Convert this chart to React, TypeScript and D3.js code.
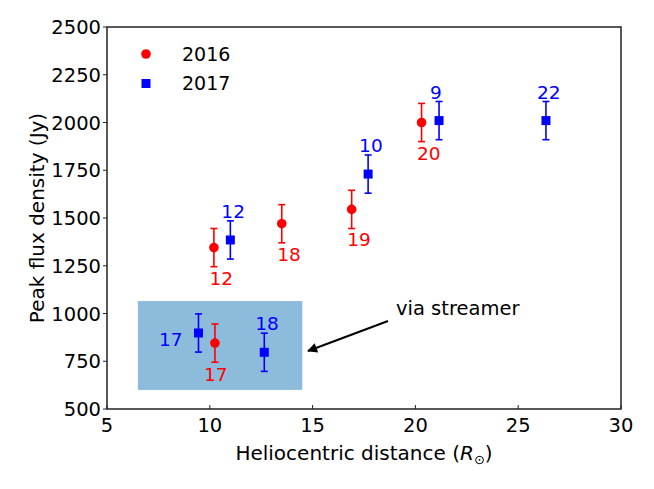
import React from "react"
import * as d3 from "d3"

// heliocentric distance (R_sun), peak flux (Jy), error (Jy), label
const dist2016 = [10.2, 13.5, 16.9, 20.3]
const flux2016 = [1345, 1470, 1545, 2000]
const err2016 = [100, 100, 100, 100]
const num2016 = ["12", "18", "19", "20"]

const dist2017 = [11.0, 17.7, 21.15, 26.35]
const flux2017 = [1385, 1730, 2010, 2010]
const err2017 = [100, 100, 100, 100]
const num2017 = ["12", "10", "9", "22"]

// points observed via streamer
const streamDist2016 = [10.25]
const streamFlux2016 = [845]
const streamErr2016 = [100]
const streamNum2016 = ["17"]

const streamDist2017 = [9.45, 12.65]
const streamFlux2017 = [898, 797]
const streamErr2017 = [100, 100]
const streamNum2017 = ["17", "18"]

const streamBoxX = [6.5, 14.5]
const streamBoxY = [600, 1065]

const xTicks = [5, 10, 15, 20, 25, 30]
const yTicks = [500, 750, 1000, 1250, 1500, 1750, 2000, 2250, 2500]

const W = 654
const H = 489
const margin = { left: 107, right: 33, top: 27, bottom: 80 }
const FONT = "DejaVu Sans, sans-serif"
const RED = "#ff0000"
const BLUE = "#0000ff"

type Side = "below" | "above" | "left" | "belowS"
const offsets: Record<Side, [number, number]> = {
  below: [-4.5, 37],
  above: [-9, -22],
  left: [-39.5, 13],
  belowS: [-11, 38],
}

const x = d3.scaleLinear().domain([5, 30]).range([margin.left, W - margin.right])
const y = d3.scaleLinear().domain([500, 2500]).range([H - margin.bottom, margin.top])

interface Pt { d: number; f: number; e: number; n: string; side: Side }

const zip = (ds: number[], fs: number[], es: number[], ns: string[], side: Side[]): Pt[] =>
  ds.map((d, i) => ({ d, f: fs[i], e: es[i], n: ns[i], side: side[i] }))

const pts2016 = zip(dist2016, flux2016, err2016, num2016, ["below", "below", "below", "below"])
  .concat(zip(streamDist2016, streamFlux2016, streamErr2016, streamNum2016, ["belowS"]))
const pts2017 = zip(dist2017, flux2017, err2017, num2017, ["above", "above", "above", "above"])
  .concat(zip(streamDist2017, streamFlux2017, streamErr2017, streamNum2017, ["left", "above"]))

const ErrBar = ({ p, color }: { p: Pt; color: string }) => {
  const cx = x(p.d)
  const y0 = y(p.f - p.e)
  const y1 = y(p.f + p.e)
  return (
    <g stroke={color} strokeWidth={1.6}>
      <line x1={cx} x2={cx} y1={y0} y2={y1} />
      <line x1={cx - 3.5} x2={cx + 3.5} y1={y0} y2={y0} />
      <line x1={cx - 3.5} x2={cx + 3.5} y1={y1} y2={y1} />
    </g>
  )
}

const Label = ({ p, color }: { p: Pt; color: string }) => {
  const [dx, dy] = offsets[p.side]
  return (
    <text x={x(p.d) + dx} y={y(p.f) + dy} fill={color} fontSize={18.5} fontFamily={FONT}>
      {p.n}
    </text>
  )
}

export default function App() {
  const x0 = margin.left
  const x1 = W - margin.right
  const y0 = H - margin.bottom
  const y1 = margin.top

  return (
    <svg width={W} height={H} style={{ position: "absolute", left: 0, top: 0, background: "#fff" }}>
      <defs>
        <marker id="head" viewBox="0 0 10 10" refX="9" refY="5" markerWidth="6" markerHeight="5" orient="auto" markerUnits="strokeWidth">
          <path d="M0,0 L10,5 L0,10 z" fill="#000" />
        </marker>
      </defs>

      {/* streamer region */}
      <rect
        x={x(streamBoxX[0])}
        y={y(streamBoxY[1])}
        width={x(streamBoxX[1]) - x(streamBoxX[0])}
        height={y(streamBoxY[0]) - y(streamBoxY[1])}
        fill="#8dbbdc"
      />

      {/* axes frame */}
      <rect x={x0} y={y1} width={x1 - x0} height={y0 - y1} fill="none" stroke="#222" strokeWidth={1.5} />

      {xTicks.map((t) => (
        <g key={"x" + t}>
          <line x1={x(t)} x2={x(t)} y1={y0} y2={y0 - 4} stroke="#222" strokeWidth={1} />
          <text x={x(t)} y={y0 + 23} textAnchor="middle" fontSize={19.5} fontFamily={FONT} fill="#000">
            {t}
          </text>
        </g>
      ))}
      {yTicks.map((t) => (
        <g key={"y" + t}>
          <line x1={x0} x2={x0 - 4} y1={y(t)} y2={y(t)} stroke="#222" strokeWidth={1} />
          <text x={x0 - 6} y={y(t) + 7} textAnchor="end" fontSize={19.5} fontFamily={FONT} fill="#000">
            {t}
          </text>
        </g>
      ))}

      <text x={(x0 + x1) / 2} y={460} textAnchor="middle" fontSize={20} fontFamily={FONT} fill="#000">
        Heliocentric distance (<tspan fontStyle="italic">R</tspan>
        <tspan fontSize={13} dy={4}>⊙</tspan>
        <tspan dy={-4}>)</tspan>
      </text>
      <text
        transform={`translate(44,${(y0 + y1) / 2}) rotate(-90)`}
        textAnchor="middle"
        fontSize={20}
        fontFamily={FONT}
        fill="#000"
      >
        Peak flux density (Jy)
      </text>

      {/* data */}
      {pts2016.map((p, i) => (
        <g key={"r" + i}>
          <ErrBar p={p} color={RED} />
          <circle cx={x(p.d)} cy={y(p.f)} r={4.8} fill={RED} />
          <Label p={p} color={RED} />
        </g>
      ))}
      {pts2017.map((p, i) => (
        <g key={"b" + i}>
          <ErrBar p={p} color={BLUE} />
          <rect x={x(p.d) - 4.5} y={y(p.f) - 4.5} width={9} height={9} fill={BLUE} />
          <Label p={p} color={BLUE} />
        </g>
      ))}

      {/* annotation */}
      <line x1={388} y1={321} x2={308} y2={351} stroke="#000" strokeWidth={2} markerEnd="url(#head)" />
      <text x={396} y={315} fontSize={19.5} fontFamily={FONT} fill="#000">
        via streamer
      </text>

      {/* legend */}
      <circle cx={146} cy={54} r={4.8} fill={RED} />
      <text x={182} y={61} fontSize={19} fontFamily={FONT} fill="#000">2016</text>
      <rect x={141.5} y={79} width={9} height={9} fill={BLUE} />
      <text x={182} y={90} fontSize={19} fontFamily={FONT} fill="#000">2017</text>
    </svg>
  )
}
